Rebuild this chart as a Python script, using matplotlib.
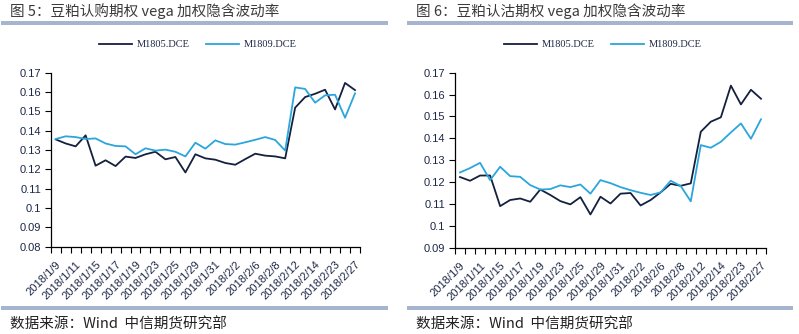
import matplotlib
matplotlib.use("Agg")
import matplotlib.pyplot as plt
from matplotlib.patches import Rectangle

plt.rcParams['font.family'] = ['Liberation Sans', 'Noto Sans CJK SC', 'DejaVu Sans']

# trading days, 2018/1/9 .. 2018/2/27
dates = ["2018/1/9", "2018/1/10", "2018/1/11", "2018/1/12", "2018/1/15", "2018/1/16",
         "2018/1/17", "2018/1/18", "2018/1/19", "2018/1/22", "2018/1/23", "2018/1/24",
         "2018/1/25", "2018/1/26", "2018/1/29", "2018/1/30", "2018/1/31", "2018/2/1",
         "2018/2/2", "2018/2/5", "2018/2/6", "2018/2/7", "2018/2/8", "2018/2/9",
         "2018/2/12", "2018/2/13", "2018/2/14", "2018/2/22", "2018/2/23", "2018/2/26",
         "2018/2/27"]

# chart 5: call options
call_m1805 = [0.1355, 0.1334, 0.1319, 0.1376, 0.1219, 0.1247, 0.1217, 0.1266, 0.1259, 0.1278,
              0.1291, 0.1252, 0.1264, 0.1184, 0.1278, 0.1257, 0.1250, 0.1233, 0.1224, 0.1253,
              0.1281, 0.1271, 0.1267, 0.1257, 0.1519, 0.1574, 0.1591, 0.1612, 0.1510, 0.1647,
              0.1610]
call_m1809 = [0.1357, 0.1371, 0.1367, 0.1357, 0.1360, 0.1334, 0.1321, 0.1319, 0.1278, 0.1309,
              0.1297, 0.1302, 0.1291, 0.1267, 0.1338, 0.1307, 0.1350, 0.1331, 0.1328, 0.1340,
              0.1353, 0.1367, 0.1352, 0.1297, 0.1624, 0.1616, 0.1545, 0.1583, 0.1586, 0.1467,
              0.1593]

# chart 6: put options
put_m1805 = [0.1223, 0.1206, 0.1230, 0.1230, 0.1090, 0.1118, 0.1125, 0.1110, 0.1166, 0.1141,
             0.1113, 0.1098, 0.1131, 0.1052, 0.1133, 0.1102, 0.1147, 0.1150, 0.1093, 0.1118,
             0.1153, 0.1192, 0.1183, 0.1194, 0.1430, 0.1476, 0.1496, 0.1641, 0.1555, 0.1622,
             0.1581]
put_m1809 = [0.1244, 0.1264, 0.1288, 0.1209, 0.1270, 0.1227, 0.1224, 0.1186, 0.1166, 0.1168,
             0.1185, 0.1177, 0.1189, 0.1147, 0.1209, 0.1195, 0.1177, 0.1163, 0.1151, 0.1141,
             0.1153, 0.1206, 0.1182, 0.1112, 0.1369, 0.1357, 0.1384, 0.1427, 0.1468, 0.1398,
             0.1487]

series_names = ["M1805.DCE", "M1809.DCE"]
dark = "#15203f"
light = "#2ba6dc"
bar_col = "#a4b5cd"
txt_col = "#1d2847"

W, H = 799, 334
fig = plt.figure(figsize=(W / 100, H / 100), dpi=100)


def panel(rect, s1, s2, yticks, ylim, title, tx, bar_x0, bar_x1):
    ax = fig.add_axes(rect)
    x = list(range(len(dates)))
    ax.plot(x, s1, color=dark, lw=1.3, label=series_names[0])
    ax.plot(x, s2, color=light, lw=1.3, label=series_names[1])
    ax.set_xlim(-0.5, len(dates) - 0.5)
    ax.set_ylim(*ylim)
    ax.set_yticks(yticks)
    ax.set_yticklabels([("%.2f" % v).rstrip("0").rstrip(".") for v in yticks],
                       fontsize=8, color=txt_col)
    ax.set_xticks(x[::2])
    ax.set_xticklabels(dates[::2], rotation=45, ha="right", rotation_mode="anchor",
                       fontsize=8, color=txt_col)
    ax.set_xticks([i - 0.5 for i in range(len(dates) + 1)], minor=True)
    ax.tick_params(axis="x", which="major", length=0, pad=9)
    ax.tick_params(axis="x", which="minor", length=4, width=0.8, direction="out")
    ax.tick_params(axis="y", length=4, width=0.8, direction="out", pad=3)
    for s in ["top", "right"]:
        ax.spines[s].set_visible(False)
    for s in ["left", "bottom"]:
        ax.spines[s].set_linewidth(0.9)
        ax.spines[s].set_color("black")
    leg = ax.legend(loc="lower center", bbox_to_anchor=(0.475, 1.08), ncol=2, frameon=False,
                    handlelength=3.2, columnspacing=1.6, handletextpad=0.4,
                    prop={"family": "Liberation Serif", "size": 7.5})
    for t in leg.get_texts():
        t.set_color(txt_col)

    # title and source text with rules
    fig.text(tx / W, 1 - 11 / H, title, fontsize=10.5, color="#3a3a3a",
             family=["Noto Sans CJK SC", "DejaVu Sans"], va="center", ha="left")
    fig.add_artist(Rectangle((bar_x0 / W, 1 - 25 / H), (bar_x1 - bar_x0) / W, 4 / H,
                             transform=fig.transFigure, color=bar_col, lw=0))
    fig.add_artist(Rectangle((bar_x0 / W, 1 - 310 / H), (bar_x1 - bar_x0) / W, 4 / H,
                             transform=fig.transFigure, color=bar_col, lw=0))
    fig.text(tx / W, 1 - 325 / H, "数据来源：Wind  中信期货研究部", fontsize=10.5, color="#222222",
             family=["Noto Sans CJK SC", "DejaVu Sans"], va="center", ha="left")
    return ax


yt1 = [0.08, 0.09, 0.1, 0.11, 0.12, 0.13, 0.14, 0.15, 0.16, 0.17]
yt2 = [0.09, 0.1, 0.11, 0.12, 0.13, 0.14, 0.15, 0.16, 0.17]

panel([50.7 / W, 1 - 246.7 / H, 309.3 / W, 174 / H], call_m1805, call_m1809, yt1, (0.08, 0.17),
      "图 5：豆粕认购期权 vega 加权隐含波动率", 10, 1, 388)
panel([455 / W, 1 - 247.7 / H, 311 / W, 175 / H], put_m1805, put_m1809, yt2, (0.09, 0.17),
      "图 6：豆粕认沽期权 vega 加权隐含波动率", 416, 407, 793)

fig.savefig("out.png", dpi=100)
